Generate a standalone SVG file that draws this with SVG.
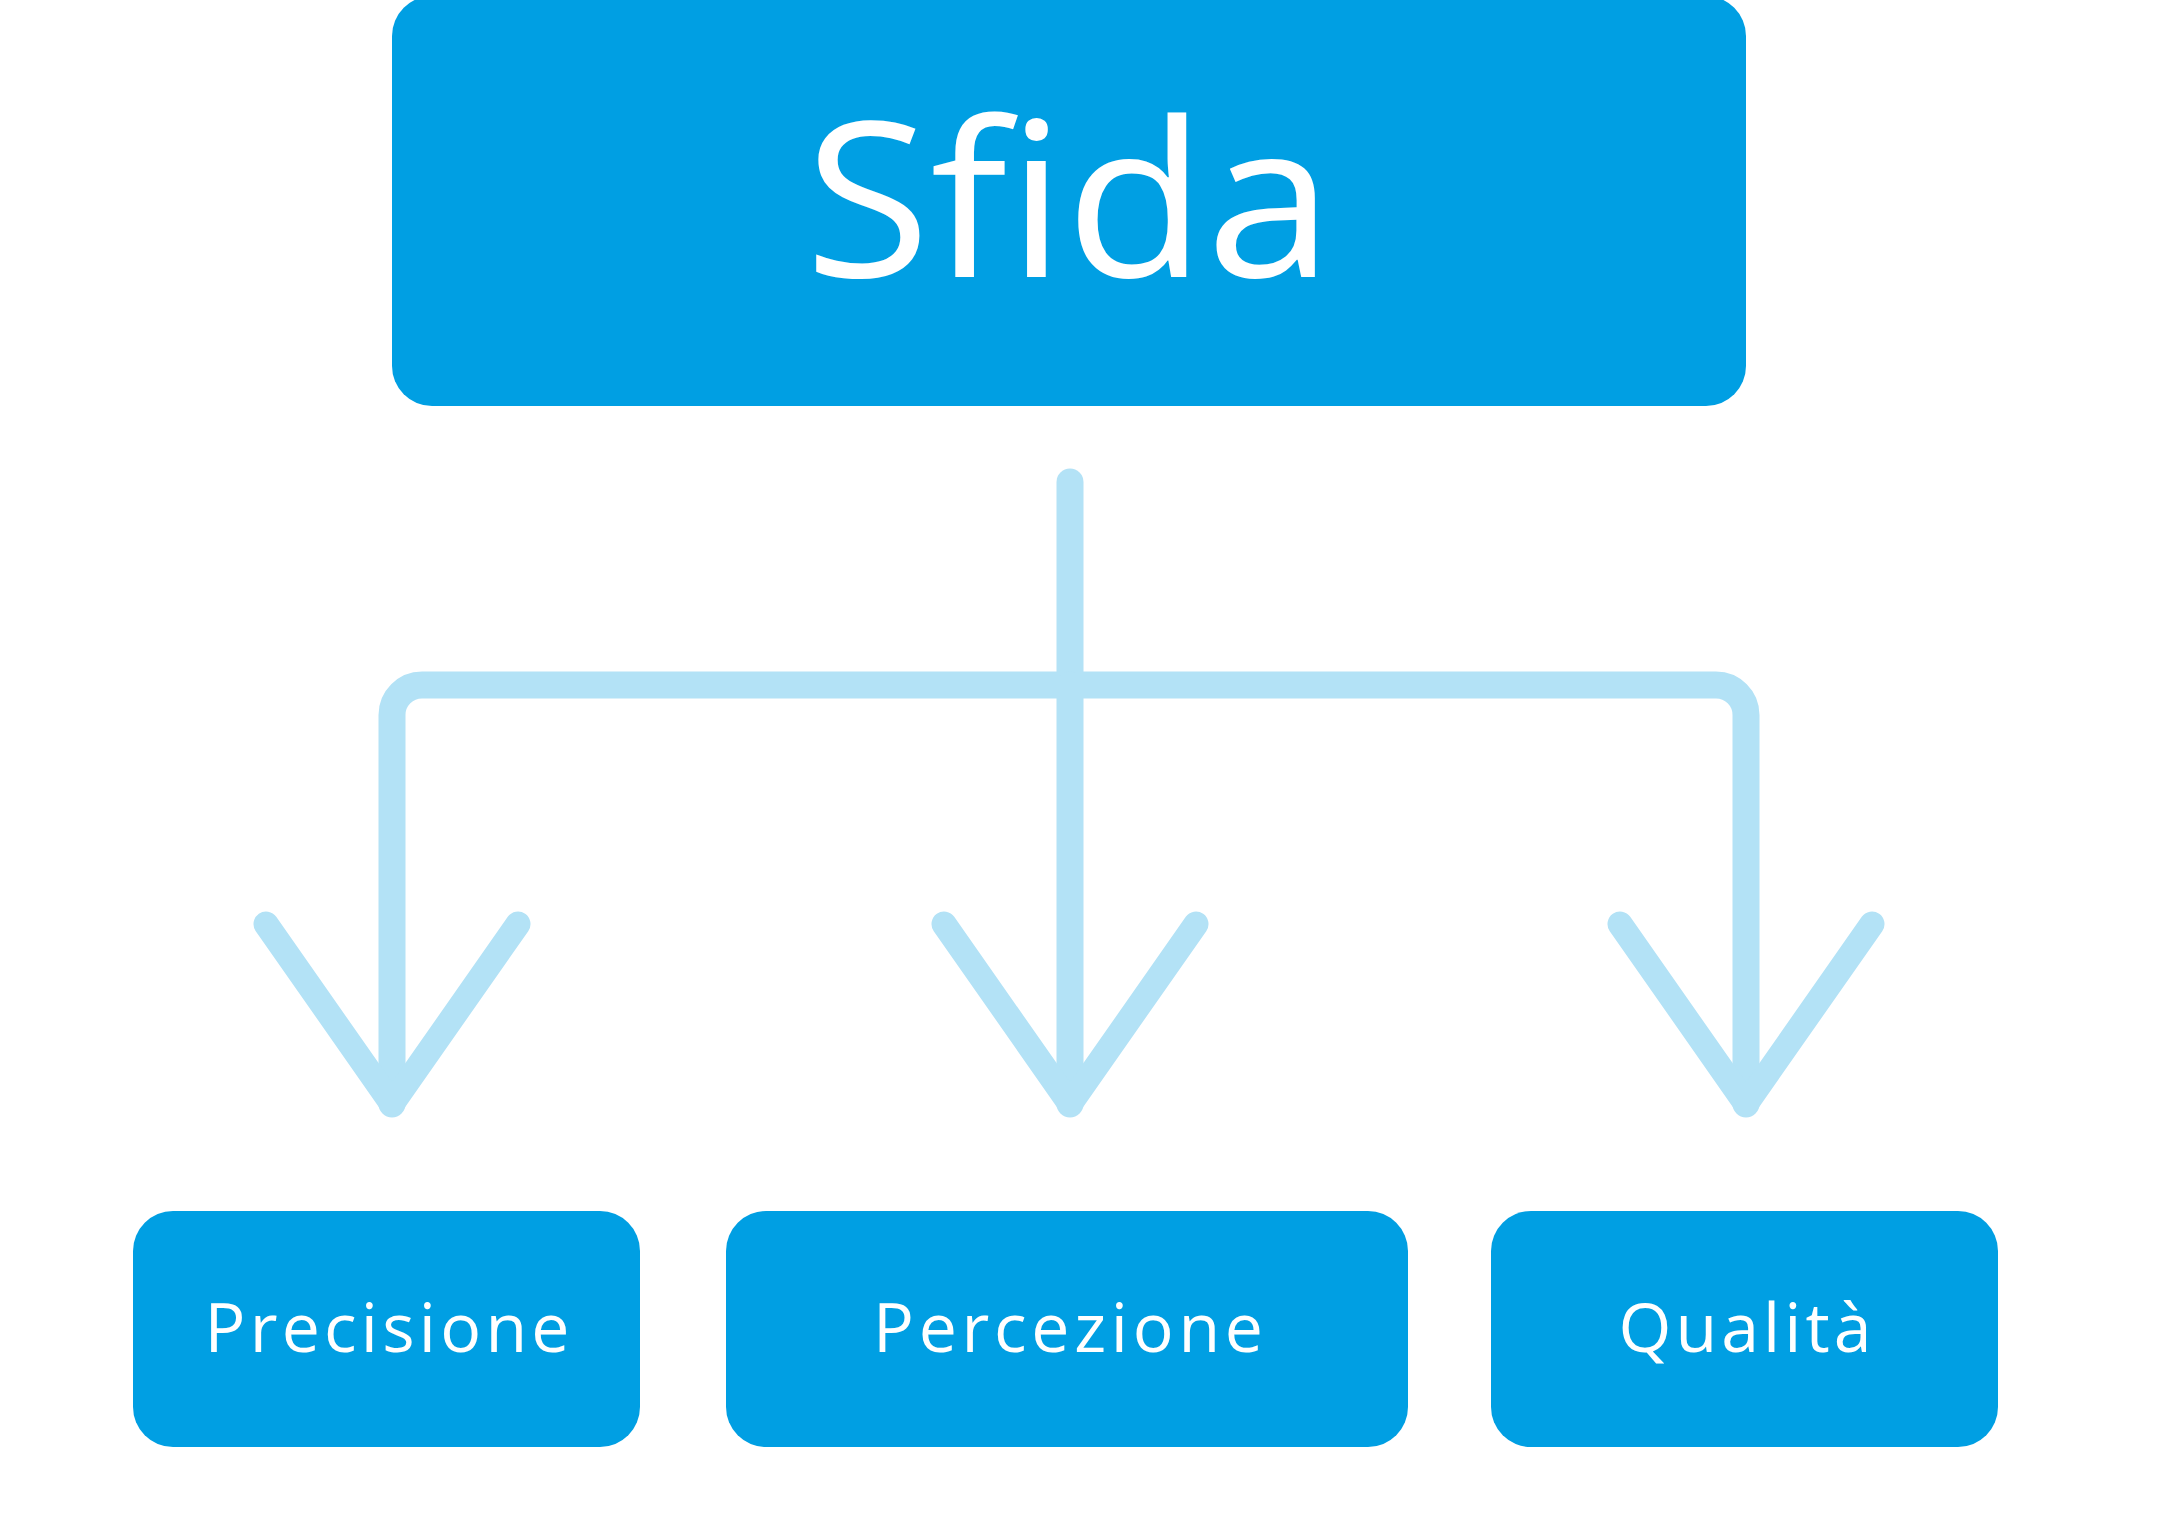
<svg xmlns="http://www.w3.org/2000/svg" width="2171" height="1519" viewBox="0 0 2171 1519">
<style>
.box{fill:#009FE3;}
.lbl{fill:#FFFFFF;font-family:"Open Sans","Liberation Sans",sans-serif;text-anchor:middle;}
.con{fill:none;stroke:#B3E2F6;stroke-width:27;stroke-linecap:round;stroke-linejoin:round;}
.arm{fill:none;stroke:#B3E2F6;stroke-width:25;stroke-linecap:round;stroke-linejoin:round;}
</style>
<rect width="2171" height="1519" fill="#FFFFFF"/>
<g id="connectors">
<path class="con" d="M1070 482 V685"/>
<path class="con" d="M392 1104 V715 A30 30 0 0 1 422 685 H1716 A30 30 0 0 1 1746 715 V1104"/>
<path class="con" d="M1070 685 V1104"/>
<polyline class="arm" points="266,924 392,1104 518,924"/>
<polyline class="arm" points="944,924 1070,1104 1196,924"/>
<polyline class="arm" points="1620,924 1746,1104 1872,924"/>
</g>
<g id="node-sfida">
<rect class="box" x="392" y="-4" width="1354" height="410" rx="40" ry="40"/>
<text class="lbl" x="1069" y="277" font-size="217" textLength="529" lengthAdjust="spacingAndGlyphs">Sfida</text>
</g>
<g id="node-precisione">
<rect class="box" x="133" y="1211" width="507" height="236" rx="40" ry="40"/>
<text class="lbl" x="387" y="1352" font-size="68" textLength="365" lengthAdjust="spacing">Precisione</text>
</g>
<g id="node-percezione">
<rect class="box" x="726" y="1211" width="682" height="236" rx="40" ry="40"/>
<text class="lbl" x="1068" y="1352" font-size="68" textLength="390" lengthAdjust="spacing">Percezione</text>
</g>
<g id="node-qualita">
<rect class="box" x="1491" y="1211" width="507" height="236" rx="40" ry="40"/>
<text class="lbl" x="1745" y="1352" font-size="68" textLength="253" lengthAdjust="spacing">Qualità</text>
</g>
</svg>
